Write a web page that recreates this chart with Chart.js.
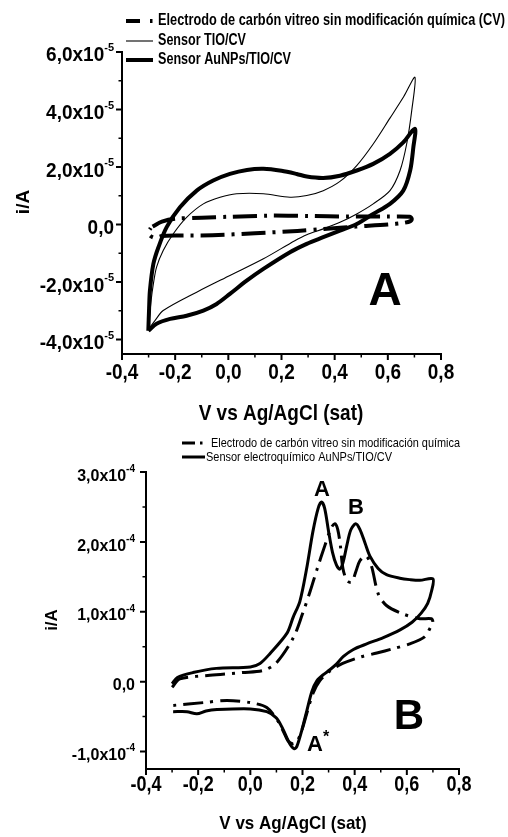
<!DOCTYPE html>
<html>
<head>
<meta charset="utf-8">
<script src="https://cdn.jsdelivr.net/npm/chart.js@4.4.1/dist/chart.umd.min.js"></script>
<style>
  body { margin: 0; background: #fff; }
  #wrap { position: relative; width: 508px; height: 837px; }
  canvas { position: absolute; left: 0; }
  #chartA { top: 0; }
  #chartB { top: 420px; }
</style>
</head>
<body>
<div id="wrap">
  <canvas id="chartA" width="508" height="432"></canvas>
  <canvas id="chartB" width="508" height="417"></canvas>
</div>
<script>
// ---- panel A data (V vs Ag/AgCl, current in units of 1e-5 A) ----
const baseAx = [-0.285, -0.25, -0.2, -0.1, 0.0, 0.15, 0.3, 0.45, 0.6, 0.683, 0.69, 0.685, 0.66, 0.6, 0.48, 0.36, 0.26, 0.1, -0.06, -0.2, -0.25, -0.276, -0.295, -0.3, -0.292];
const baseAy = [-0.07, 0.10, 0.20, 0.24, 0.27, 0.31, 0.30, 0.28, 0.28, 0.27, 0.20, 0.12, 0.06, 0.00, -0.07, -0.15, -0.22, -0.30, -0.37, -0.38, -0.40, -0.46, -0.38, -0.25, -0.12];

const tioAx = [-0.301, -0.29, -0.282, -0.27, -0.245, -0.207, -0.157, -0.094, -0.031, 0.031, 0.132, 0.232, 0.295, 0.357, 0.42, 0.483, 0.545, 0.608, 0.66, 0.702, 0.69, 0.671, 0.646, 0.608, 0.545, 0.483, 0.42, 0.357, 0.295, 0.25, 0.132, 0.006, -0.119, -0.245, -0.276, -0.301];
const tioAy = [-3.65, -2.6, -2.06, -1.48, -0.90, -0.32, 0.25, 0.72, 0.95, 1.07, 1.07, 0.95, 1.01, 1.18, 1.50, 2.05, 2.80, 3.70, 4.45, 5.12, 3.97, 2.81, 1.88, 1.18, 0.72, 0.37, 0.08, -0.15, -0.35, -0.56, -1.19, -1.77, -2.35, -2.99, -3.34, -3.65];

const aunpAx = [-0.301, -0.298, -0.295, -0.282, -0.263, -0.232, -0.182, -0.119, -0.057, 0.006, 0.07, 0.132, 0.2, 0.257, 0.295, 0.357, 0.42, 0.483, 0.545, 0.608, 0.658, 0.702, 0.696, 0.684, 0.658, 0.608, 0.545, 0.483, 0.42, 0.357, 0.295, 0.232, 0.132, 0.069, 0.006, -0.044, -0.094, -0.157, -0.219, -0.27, -0.301];
const aunpAy = [-3.69, -2.9, -2.30, -1.37, -0.79, -0.09, 0.60, 1.18, 1.53, 1.76, 1.90, 1.94, 1.87, 1.76, 1.67, 1.62, 1.70, 1.88, 2.11, 2.46, 2.86, 3.33, 2.69, 1.88, 1.18, 0.72, 0.37, 0.02, -0.21, -0.44, -0.67, -0.96, -1.54, -1.95, -2.41, -2.76, -2.99, -3.17, -3.28, -3.45, -3.69];

// ---- panel B data (current in units of 1e-4 A) ----
const baseBx = [-0.3, -0.27, -0.155, -0.03, 0.05, 0.10, 0.165, 0.20, 0.23, 0.255, 0.286, 0.31, 0.324, 0.335, 0.345, 0.355, 0.37, 0.388, 0.405, 0.42, 0.443, 0.464, 0.49, 0.522, 0.585, 0.65, 0.694, 0.70, 0.69, 0.668, 0.611, 0.546, 0.485, 0.42, 0.354, 0.305, 0.266, 0.24, 0.216, 0.197, 0.178, 0.162, 0.145, 0.13, 0.105, 0.063, 0.0, -0.09, -0.18, -0.296];
const baseBy = [-0.08, 0.04, 0.09, 0.13, 0.16, 0.27, 0.63, 0.97, 1.3, 1.6, 1.95, 2.2, 2.26, 2.18, 1.95, 1.62, 1.45, 1.42, 1.58, 1.73, 1.80, 1.66, 1.26, 1.09, 0.97, 0.90, 0.90, 0.84, 0.77, 0.64, 0.54, 0.47, 0.41, 0.35, 0.26, 0.15, 0.01, -0.17, -0.46, -0.70, -0.86, -0.89, -0.85, -0.74, -0.56, -0.37, -0.30, -0.27, -0.30, -0.34];

const aunpBx = [-0.3, -0.28, -0.22, -0.13, 0.0, 0.037, 0.075, 0.14, 0.164, 0.19, 0.215, 0.24, 0.26, 0.273, 0.285, 0.3, 0.315, 0.33, 0.343, 0.355, 0.37, 0.385, 0.404, 0.42, 0.44, 0.458, 0.49, 0.522, 0.573, 0.611, 0.65, 0.70, 0.695, 0.68, 0.655, 0.62, 0.574, 0.51, 0.446, 0.395, 0.357, 0.33, 0.305, 0.28, 0.255, 0.236, 0.217, 0.197, 0.178, 0.168, 0.15, 0.125, 0.10, 0.063, 0.0, -0.128, -0.17, -0.205, -0.243, -0.296];
const aunpBy = [-0.03, 0.06, 0.13, 0.19, 0.21, 0.26, 0.40, 0.69, 0.92, 1.15, 1.6, 2.15, 2.48, 2.57, 2.48, 2.15, 1.85, 1.67, 1.61, 1.7, 1.95, 2.17, 2.26, 2.18, 1.98, 1.8, 1.62, 1.53, 1.48, 1.46, 1.45, 1.47, 1.3, 1.12, 0.98, 0.85, 0.74, 0.63, 0.54, 0.46, 0.36, 0.25, 0.17, 0.10, 0.01, -0.14, -0.41, -0.70, -0.93, -0.96, -0.88, -0.68, -0.52, -0.43, -0.39, -0.40, -0.42, -0.46, -0.43, -0.43];

// ---- ticks and labels ----
const xMajor = [-0.4, -0.2, 0.0, 0.2, 0.4, 0.6, 0.8];
const xMinor = [-0.3, -0.1, 0.1, 0.3, 0.5, 0.7];
const xTickText = ['-0,4', '-0,2', '0,0', '0,2', '0,4', '0,6', '0,8'];

const yMajorA = [-4e-5, -2e-5, 0, 2e-5, 4e-5, 6e-5];
const yMinorA = [-3e-5, -1e-5, 1e-5, 3e-5, 5e-5];
const yTickTextA = ['-4,0x10', '-2,0x10', '0,0', '2,0x10', '4,0x10', '6,0x10'];
const yTickExpA = ['-5', '-5', '', '-5', '-5', '-5'];

const yMajorB = [-1e-4, 0, 1e-4, 2e-4, 3e-4];
const yMinorB = [-0.5e-4, 0.5e-4, 1.5e-4, 2.5e-4];
const yTickTextB = ['-1,0x10', '0,0', '1,0x10', '2,0x10', '3,0x10'];
const yTickExpB = ['-4', '', '-4', '-4', '-4'];

const legendA = ['Electrodo de carbón vitreo sin modificación química (CV)', 'Sensor TIO/CV', 'Sensor AuNPs/TIO/CV'];
const legendB = ['Electrodo de carbón vitreo sin modificación química', 'Sensor electroquímico AuNPs/TIO/CV'];

const FONT = '"Liberation Sans", Arial, sans-serif';

function pts(xs, ys, unit) {
    return xs.map((x, i) => ({ x: x, y: ys[i] * unit }));
}

function fitText(ctx, text, x, y, font, width, align) {
    ctx.save();
    ctx.font = font;
    const w = ctx.measureText(text).width;
    const s = width ? width / w : 1;
    ctx.translate(x, y);
    ctx.scale(s, 1);
    ctx.textAlign = 'left';
    ctx.textBaseline = 'middle';
    ctx.fillText(text, align === 'center' ? -w / 2 : 0, 0);
    ctx.restore();
}

// text drawn a little taller than the font, like the condensed originals
function tallText(ctx, text, x, y, sy) {
    ctx.save();
    ctx.translate(x, y);
    ctx.scale(1, sy);
    ctx.fillText(text, 0, 0);
    ctx.restore();
}

function decor(o) {
    return {
        id: 'decor' + o.key,
        afterDraw(chart) {
            const ctx = chart.ctx;
            const a = chart.chartArea;
            const xs = chart.scales.x;
            const ys = chart.scales.y;
            ctx.save();
            ctx.fillStyle = '#000';
            ctx.strokeStyle = '#000';
            ctx.setLineDash([]);

            // tick marks
            const tick = (vals, len, w, horiz) => {
                ctx.lineWidth = w;
                ctx.beginPath();
                vals.forEach(v => {
                    if (horiz) {
                        const p = xs.getPixelForValue(v);
                        ctx.moveTo(p, a.bottom);
                        ctx.lineTo(p, a.bottom + len);
                    } else {
                        const p = ys.getPixelForValue(v);
                        ctx.moveTo(a.left, p);
                        ctx.lineTo(a.left - len, p);
                    }
                });
                ctx.stroke();
            };
            tick(xMajor, 6, 2, true);
            tick(xMinor, 3.5, 1.5, true);
            tick(o.yMajor, 6, 2, false);
            tick(o.yMinor, 3.5, 1.5, false);

            // x tick labels
            ctx.font = 'bold ' + o.xFont + 'px ' + FONT;
            ctx.textAlign = 'center';
            ctx.textBaseline = 'middle';
            xMajor.forEach((v, i) => tallText(ctx, xTickText[i], xs.getPixelForValue(v), a.bottom + o.xLabelGap, o.xStretch));

            // y tick labels with superscript exponent
            const f1 = 'bold ' + o.yFont + 'px ' + FONT;
            const f2 = 'bold ' + o.expFont + 'px ' + FONT;
            ctx.textAlign = 'left';
            o.yMajor.forEach((v, i) => {
                const p = ys.getPixelForValue(v);
                const exp = o.yExp[i];
                ctx.font = f2;
                const we = exp ? ctx.measureText(exp).width : 0;
                ctx.font = f1;
                const wb = ctx.measureText(o.yText[i]).width;
                tallText(ctx, o.yText[i], o.labelRight - we - wb, p + o.baseDrop, o.yStretch);
                if (exp) {
                    ctx.font = f2;
                    ctx.fillText(exp, o.labelRight - we, p - o.expRise);
                }
            });

            // axis titles
            ctx.font = 'bold ' + o.titleFont + 'px ' + FONT;
            ctx.textAlign = 'center';
            tallText(ctx, 'V vs Ag/AgCl (sat)', o.xTitle[0], o.xTitle[1], 1.12);
            ctx.save();
            ctx.translate(o.yTitle[0], o.yTitle[1]);
            ctx.rotate(-Math.PI / 2);
            ctx.fillText('i/A', 0, 0);
            ctx.restore();

            // legend
            o.legend.forEach((item, i) => {
                const y = item.y;
                ctx.lineWidth = item.w;
                ctx.beginPath();
                if (item.dash) {
                    ctx.moveTo(o.legX0, y);
                    ctx.lineTo(o.legX0 + item.dash, y);
                    ctx.moveTo(item.dot, y);
                    ctx.lineTo(item.dot + 2.5, y);
                } else {
                    ctx.moveTo(o.legX0, y);
                    ctx.lineTo(o.legX1, y);
                }
                ctx.stroke();
                fitText(ctx, o.legendText[i], item.tx, y, o.legFont, item.tw);
            });

            // panel letters and peak labels
            o.marks.forEach(m => {
                ctx.font = 'bold ' + m.size + 'px ' + FONT;
                ctx.textAlign = 'center';
                ctx.textBaseline = 'middle';
                ctx.fillText(m.t, m.x, m.y);
                if (m.sup) {
                    ctx.font = 'bold ' + m.supSize + 'px ' + FONT;
                    ctx.textAlign = 'left';
                    ctx.fillText(m.sup, m.sx, m.sy);
                }
            });
            ctx.restore();
        }
    };
}

function axisOpts(min, max, fitFn) {
    return {
        type: 'linear',
        min: min,
        max: max,
        ticks: { display: false },
        grid: { drawOnChartArea: false, drawTicks: false },
        border: { display: true, width: 2, color: '#000' },
        afterFit: fitFn
    };
}

function lineSet(data, width, dash) {
    return {
        data: data,
        showLine: true,
        pointRadius: 0,
        borderColor: '#000',
        borderWidth: width,
        borderDash: dash || [],
        borderCapStyle: 'butt',
        borderJoinStyle: 'round',
        tension: 0.3,
        fill: false,
        clip: false
    };
}

new Chart(document.getElementById('chartA'), {
    type: 'scatter',
    data: {
        datasets: [
            lineSet(pts(baseAx, baseAy, 1e-5), 4, [24, 7, 3, 7]),
            lineSet(pts(tioAx, tioAy, 1e-5), 1.1),
            lineSet(pts(aunpAx, aunpAy, 1e-5), 4)
        ]
    },
    options: {
        responsive: false,
        animation: false,
        layout: { padding: { top: 52, right: 67, bottom: 78, left: 0 } },
        plugins: { legend: { display: false }, tooltip: { enabled: false } },
        scales: {
            x: axisOpts(-0.4, 0.8, s => { s.height = 0; }),
            y: axisOpts(-4.5e-5, 6e-5, s => { s.width = 122; })
        }
    },
    plugins: [decor({
        key: 'A',
        yMajor: yMajorA, yMinor: yMinorA, yText: yTickTextA, yExp: yTickExpA,
        xFont: 19, xLabelGap: 19, xStretch: 1.18,
        yFont: 19, expFont: 11, labelRight: 114, baseDrop: 4, expRise: 4, yStretch: 1.05,
        titleFont: 19, xTitle: [281, 414], yTitle: [24, 202],
        legX0: 126, legX1: 153, legFont: 'bold 16px ' + FONT, legendText: legendA,
        legend: [
            { y: 21, w: 4, dash: 14, dot: 150, tx: 158, tw: 347 },
            { y: 41, w: 1.1, tx: 158, tw: 88 },
            { y: 60, w: 4, tx: 158, tw: 133 }
        ],
        marks: [{ t: 'A', x: 385, y: 292, size: 46 }]
    })]
});

new Chart(document.getElementById('chartB'), {
    type: 'scatter',
    data: {
        datasets: [
            lineSet(pts(baseBx, baseBy, 1e-4), 3, [20, 7, 3, 7]),
            lineSet(pts(aunpBx, aunpBy, 1e-4), 3)
        ]
    },
    options: {
        responsive: false,
        animation: false,
        layout: { padding: { top: 52, right: 49, bottom: 68, left: 0 } },
        plugins: { legend: { display: false }, tooltip: { enabled: false } },
        scales: {
            x: axisOpts(-0.4, 0.8, s => { s.height = 0; }),
            y: axisOpts(-1.25e-4, 3e-4, s => { s.width = 146; })
        }
    },
    plugins: [decor({
        key: 'B',
        yMajor: yMajorB, yMinor: yMinorB, yText: yTickTextB, yExp: yTickExpB,
        xFont: 18, xLabelGap: 16, xStretch: 1.18,
        yFont: 16, expFont: 10, labelRight: 135, baseDrop: 4, expRise: 3, yStretch: 1.05,
        titleFont: 17, xTitle: [293, 404], yTitle: [52, 200],
        legX0: 182, legX1: 205, legFont: '13px ' + FONT, legendText: legendB,
        legend: [
            { y: 23, w: 3, dash: 13, dot: 200, tx: 211, tw: 249 },
            { y: 37, w: 3, tx: 206, tw: 186 }
        ],
        marks: [
            { t: 'B', x: 409, y: 297, size: 42 },
            { t: 'A', x: 322, y: 70, size: 22 },
            { t: 'B', x: 356, y: 88, size: 22 },
            { t: 'A', x: 315, y: 325, size: 22, sup: '*', supSize: 16, sx: 323, sy: 318 }
        ]
    })]
});
</script>
</body>
</html>
